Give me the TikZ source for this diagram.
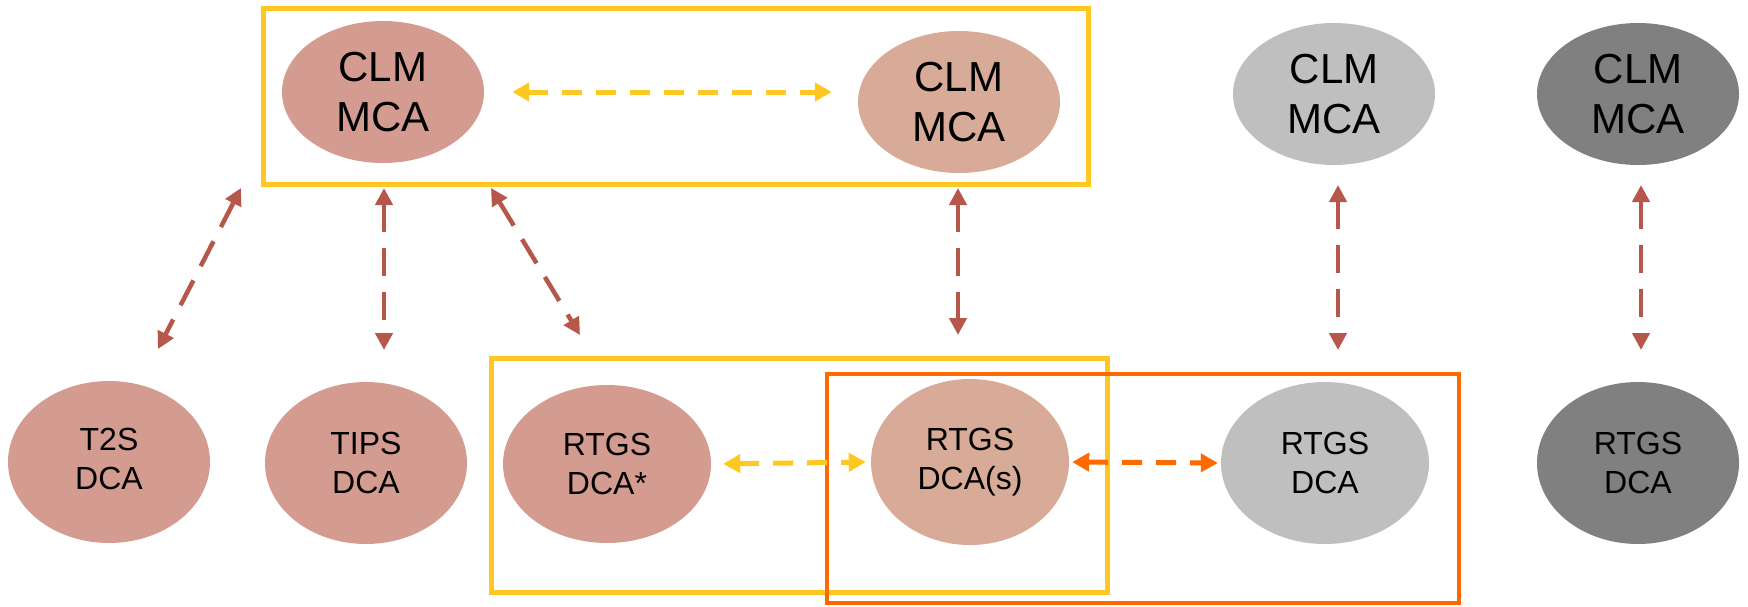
\documentclass[tikz,border=0pt]{standalone}
\usepackage{fontspec}
\setmainfont{Liberation Sans}
\usetikzlibrary{shapes.geometric,arrows.meta}
\definecolor{rose}{HTML}{D49C90}
\definecolor{sand}{HTML}{D7AB97}
\definecolor{lgrey}{HTML}{BFBFBF}
\definecolor{dgrey}{HTML}{808080}
\definecolor{gold}{HTML}{FFC820}
\definecolor{tang}{HTML}{FF6A00}
\definecolor{rust}{HTML}{B5574A}
\begin{document}
\begin{tikzpicture}[x=1pt, y=-1pt,
    every node/.style={ellipse, inner sep=0pt, align=center},
    mca/.style={minimum width=202pt, minimum height=142pt, font=\fontsize{42}{50}\selectfont},
    dca/.style={minimum width=202pt, minimum height=162pt, font=\fontsize{32}{39}\selectfont},
    link/.style={rust, line width=4.5pt, dash pattern=on 28pt off 16pt, {Triangle[length=17pt,width=17pt]}-{Triangle[length=17pt,width=17pt]}},
    flat/.style={line width=5pt, dash pattern=on 20pt off 14pt, {Triangle[length=17pt,width=18pt]}-{Triangle[length=17pt,width=18pt]}}]
  \useasboundingbox (0,0) rectangle (1748,606);
  \node (m1) at (383,92) [mca, fill=rose] {CLM\\MCA};
  \node (m2) at (959,102) [mca, fill=sand] {CLM\\MCA};
  \node (m3) at (1334,94) [mca, fill=lgrey] {CLM\\MCA};
  \node (m4) at (1638,94) [mca, fill=dgrey] {CLM\\MCA};
  \node (d1) at (109,462) [dca, fill=rose] {\raisebox{18pt}{\begin{tabular}{@{}c@{}}T2S\\DCA\end{tabular}}};
  \node (d2) at (366,463) [dca, fill=rose] {TIPS\\DCA};
  \node (d3) at (607,464) [dca, minimum width=208pt, minimum height=158pt, fill=rose] {RTGS\\DCA*};
  \node (d4) at (970,462) [dca, minimum width=198pt, minimum height=166pt, fill=sand] {RTGS\\DCA(s)};
  \node (d5) at (1325,463) [dca, minimum width=208pt, fill=lgrey] {RTGS\\DCA};
  \node (d6) at (1638,463) [dca, fill=dgrey] {RTGS\\DCA};
  % frames
  \draw[gold, line width=5pt] (263,8) rectangle (1088,184);
  \draw[gold, line width=5pt] (491,358) rectangle (1107,592);
  \draw[tang, line width=4pt] (827,374) rectangle (1459,603);
  % ends of the links to the DCAs
  \coordinate (u1) at (241,188);  \coordinate (v1) at (158,349);
  \coordinate (u2) at (384,188);  \coordinate (v2) at (384,350);
  \coordinate (u3) at (491,188);  \coordinate (v3) at (580,335);
  \coordinate (u4) at (958,188);  \coordinate (v4) at (958,335);
  \coordinate (u5) at (1338,185); \coordinate (v5) at (1338,350);
  \coordinate (u6) at (1641,185); \coordinate (v6) at (1641,350);
  \foreach \source/\dest in {u1/v1, u2/v2, u3/v3, u4/v4, u5/v5, u6/v6}
    \draw[link] (\source) -- (\dest);
  \draw[flat, gold, shorten <=28pt, shorten >=26pt] (m1.east) -- (m1.east -| m2.west);
  \draw[flat, gold, shorten <=12pt, shorten >=5pt] (d3.east) -- (d4.west);
  \draw[flat, tang, shorten <=3pt, shorten >=3pt] (d4.east) -- (d5.west);
\end{tikzpicture}
\end{document}
